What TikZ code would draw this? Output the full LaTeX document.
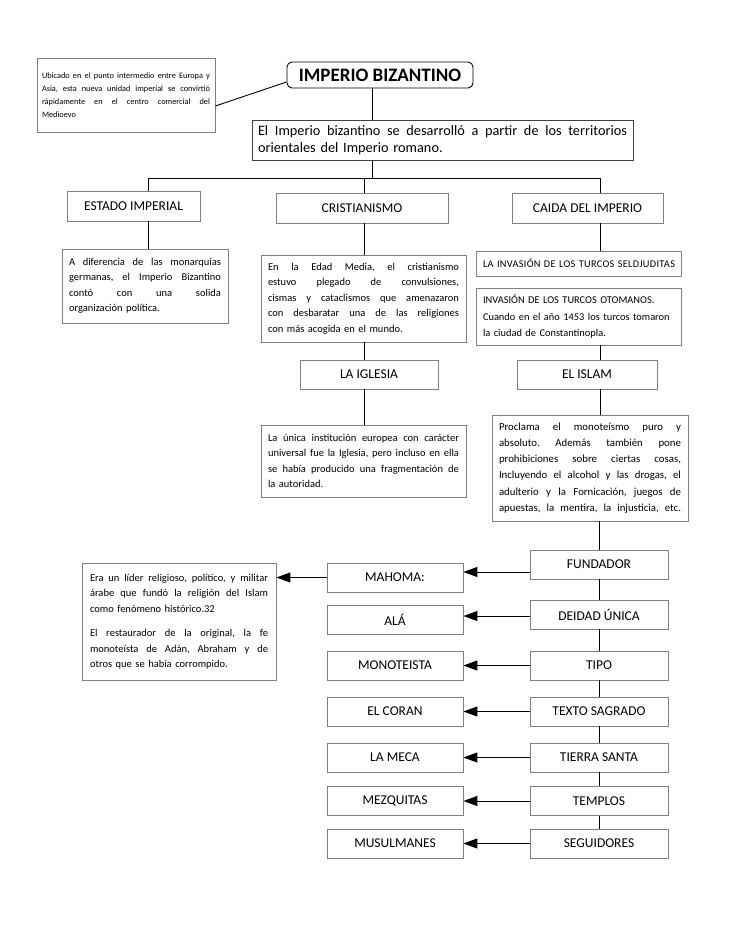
\documentclass[tikz,border=0pt]{standalone}
\usepackage{fontspec}
\setmainfont{Carlito}
\newfontfamily\widefont[LetterSpace=3]{Carlito}
\usetikzlibrary{arrows.meta,calc}
\def\curw{100pt}
\newcommand\jj[1]{\leavevmode\hbox to \curw{\frenchspacing\spaceskip=0.226em plus 1fil\relax #1}}
\begin{document}
\begin{tikzpicture}[x=1pt,y=-1pt,
  bx/.style={draw=black!50, line width=0.8pt, inner sep=0pt, align=center, font=\fontsize{13.5}{15}\selectfont},
  tb/.style={draw=black!50, line width=0.8pt, inner xsep=7pt, inner ysep=0pt, align=left, font=\fontsize{10.5}{15.5}\selectfont},
  tw/.style={text width=#1, /utils/exec={\gdef\curw{#1}}},
  ln/.style={line width=0.9pt, black},
  arr/.style={line width=0.9pt, black, -{Triangle[length=14pt,width=10pt]}},
]
\useasboundingbox (0,0) rectangle (728,942);
\fill[white] (0,0) rectangle (728,942);

% top
\node[tb, inner xsep=5pt, tw=168pt, minimum height=74pt, font=\fontsize{8.3}{13}\selectfont] (tl) at (126,95)
 {\jj{Ubicado en el punto intermedio entre Europa y}\\\jj{Asia, esta nueva unidad imperial se convirtió}\\\jj{rápidamente en el centro comercial del}\\Medioevo};
\node[draw=black, line width=0.9pt, rounded corners=5pt, minimum width=186pt, minimum height=26pt, inner sep=0pt, font=\fontsize{19}{22}\selectfont\bfseries] (title) at (380,75) {IMPERIO BIZANTINO};
\node[tb, draw=black!75, inner xsep=6pt, tw=369pt, minimum height=40pt, font=\fontsize{14.3}{17}\selectfont] (intro) at (442.5,140)
 {\jj{El Imperio bizantino se desarrolló a partir de los territorios}\\orientales del Imperio romano.};

% headers
\node[bx, minimum width=133pt, minimum height=30pt] (estado) at (133.5,206) {ESTADO IMPERIAL};
\node[bx, minimum width=172pt, minimum height=30pt] (cris) at (362,208) {CRISTIANISMO};
\node[bx, minimum width=151pt, minimum height=30pt] (caida) at (587.5,208) {CAIDA DEL IMPERIO};

% second level
\node[tb, tw=152pt, minimum height=74pt] (left) at (145,286)
 {\jj{A diferencia de las monarquías}\\\jj{germanas, el Imperio Bizantino}\\\jj{contó con una solida}\\organización política.};
\node[tb, tw=191pt, minimum height=87pt] (mid) at (363.5,298.5)
 {\jj{En la Edad Media, el cristianismo}\\\jj{estuvo plegado de convulsiones,}\\\jj{cismas y cataclismos que amenazaron}\\\jj{con desbaratar una de las religiones}\\con más acogida en el mundo.};
\node[tb, inner xsep=7pt, tw=191pt, minimum height=25pt, font=\widefont\fontsize{10.3}{15.5}\selectfont] (r1) at (578.5,263.5)
 {\mbox{LA INVASIÓN DE LOS TURCOS SELDJUDITAS}};
\node[tb, inner xsep=7pt, tw=191pt, minimum height=57pt, font=\fontsize{10.4}{16.5}\selectfont] (r2) at (578.5,316.5)
 {INVASIÓN DE LOS TURCOS OTOMANOS.\\Cuando en el año 1453 los turcos tomaron\\la ciudad de Constantinopla.};

\node[bx, minimum width=138pt, minimum height=29pt] (igl) at (369,374.5) {LA IGLESIA};
\node[bx, minimum width=140pt, minimum height=29pt] (islh) at (587,374.5) {EL ISLAM};

\node[tb, tw=191pt, minimum height=72pt] (midl) at (363.5,461)
 {\jj{La única institución europea con carácter}\\\jj{universal fue la Iglesia, pero incluso en ella}\\\jj{se había producido una fragmentación de}\\la autoridad.};
\node[tb, tw=182pt, minimum height=106pt, font=\fontsize{10.8}{16.2}\selectfont] (islt) at (590,468)
 {\jj{Proclama el monoteísmo puro y}\\\jj{absoluto. Además también pone}\\\jj{prohibiciones sobre ciertas cosas,}\\\jj{Incluyendo el alcohol y las drogas, el}\\\jj{adulterio y la Fornicación, juegos de}\\\jj{apuestas, la mentira, la injusticia, etc.}};

% right column
\node[bx, minimum width=138pt, minimum height=29pt] (fund) at (599,564.5) {FUNDADOR};
\node[bx, minimum width=138pt, minimum height=29pt] (deid) at (599,614.5) {DEIDAD ÚNICA};
\node[bx, minimum width=138pt, minimum height=29pt] (tipo) at (599,665.5) {TIPO};
\node[bx, minimum width=138pt, minimum height=29pt] (texto) at (599,711.5) {TEXTO SAGRADO};
\node[bx, minimum width=138pt, minimum height=29pt] (tierra) at (599,757.5) {TIERRA SANTA};
\node[bx, minimum width=138pt, minimum height=29pt] (templ) at (599,801) {TEMPLOS};
\node[bx, minimum width=138pt, minimum height=29pt] (seg) at (599,843.5) {SEGUIDORES};
% left column
\node[bx, minimum width=136pt, minimum height=29pt] (mah) at (395,577.5) {MAHOMA:};
\node[bx, minimum width=136pt, minimum height=29pt] (ala) at (395,619.5) {ALÁ};
\node[bx, minimum width=136pt, minimum height=29pt] (mono) at (395,665.5) {MONOTEISTA};
\node[bx, minimum width=136pt, minimum height=29pt] (coran) at (395,711.5) {EL CORAN};
\node[bx, minimum width=136pt, minimum height=29pt] (meca) at (395,757.5) {LA MECA};
\node[bx, minimum width=136pt, minimum height=29pt] (mezq) at (395,801) {MEZQUITAS};
\node[bx, minimum width=136pt, minimum height=29pt] (musu) at (395,843.5) {MUSULMANES};

\node[tb, inner xsep=8pt, tw=178pt, minimum height=117pt] (mtext) at (179,621.5)
 {\jj{Era un líder religioso, político, y militar}\\\jj{árabe que fundó la religión del Islam}\\como fenómeno histórico.32\\[9pt]\jj{El restaurador de la original, la fe}\\\jj{monoteísta de Adán, Abraham y de}\\otros que se había corrompido.};

% connectors
\coordinate (bar) at (372,178);
\coordinate (cL) at (148,178);
\coordinate (cM) at (364,178);
\coordinate (cR) at (600,178);
\draw[ln] ([yshift=-11pt]tl.east) -- ([yshift=-7pt]title.west);
\draw[ln] (title.south -| bar) -- (intro.north -| bar);
\draw[ln] (intro.south -| bar) -- (bar);
\draw[ln] (cL |- estado.north) -- (cL) -- (cR) -- (cR |- caida.north);
\draw[ln] (cM) -- (cM |- cris.north);
\draw[ln] (cL |- estado.south) -- (cL |- left.north);
\draw[ln] (cM |- cris.south) -- (cM |- mid.north);
\draw[ln] (cM |- mid.south) -- (cM |- igl.north);
\draw[ln] (cM |- igl.south) -- (cM |- midl.north);
\draw[ln] (cR |- caida.south) -- (cR |- r1.north);
\draw[ln] (cR |- r2.south) -- (cR |- islh.north);
\draw[ln] (cR |- islh.south) -- (cR |- islt.north);
\draw[ln] (fund.north |- islt.south) -- (fund.north);
\draw[ln] (fund) -- (deid) -- (tipo) -- (texto) -- (tierra) -- (templ) -- (seg);

\coordinate (a1) at ([yshift=-7.5pt]fund.west);
\coordinate (a2) at ([yshift=-1.5pt]deid.west);
\draw[arr] (a1) -- (mah.east |- a1);
\draw[arr] (a2) -- (ala.east |- a2);
\draw[arr] (tipo.west) -- (mono.east);
\draw[arr] (texto.west) -- (coran.east);
\draw[arr] (tierra.west) -- (meca.east);
\draw[arr] (templ.west) -- (mezq.east);
\draw[arr] (seg.west) -- (musu.east);
\draw[arr] (mah.west) -- (mtext.east |- mah.west);
\end{tikzpicture}
\end{document}
